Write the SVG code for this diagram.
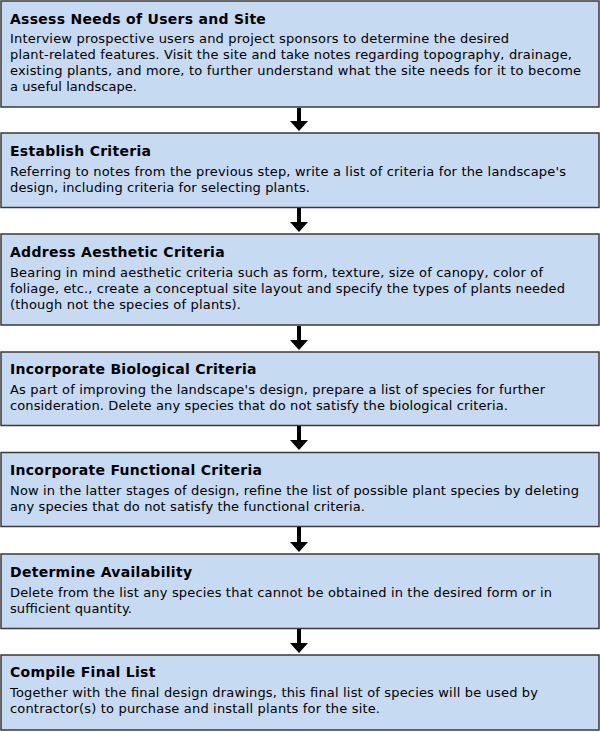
<svg xmlns="http://www.w3.org/2000/svg" width="600" height="732" viewBox="0 0 600 732">
<style>
.box{fill:#c6daf1;stroke:#3a3a3a;stroke-width:1.5}
.t{font-family:"DejaVu Sans",Verdana,sans-serif;font-weight:bold;font-size:14px;letter-spacing:0.28px;fill:#000}
.b{font-family:"DejaVu Sans",Verdana,sans-serif;font-size:13px;fill:#000}
.arr{fill:#000}
</style>
<rect width="600" height="732" fill="#fff"/>
<g id="n1">
<rect class="box" x="1" y="1" width="598" height="106"/>
<text class="t" x="10" y="24">Assess Needs of Users and Site</text>
<text class="b" x="10" y="43" textLength="499" lengthAdjust="spacing">Interview prospective users and project sponsors to determine the desired</text>
<text class="b" x="10" y="59" textLength="562" lengthAdjust="spacing">plant-related features. Visit the site and take notes regarding topography, drainage,</text>
<text class="b" x="10" y="75" textLength="571" lengthAdjust="spacing">existing plants, and more, to further understand what the site needs for it to become</text>
<text class="b" x="10" y="91" textLength="127" lengthAdjust="spacing">a useful landscape.</text>
</g>
<g id="n2">
<rect class="box" x="1" y="133" width="598" height="74.5"/>
<text class="t" x="10" y="156">Establish Criteria</text>
<text class="b" x="10" y="176" textLength="556" lengthAdjust="spacing">Referring to notes from the previous step, write a list of criteria for the landscape's</text>
<text class="b" x="10" y="192" textLength="300" lengthAdjust="spacing">design, including criteria for selecting plants.</text>
</g>
<g id="n3">
<rect class="box" x="1" y="234" width="598" height="91"/>
<text class="t" x="10" y="257">Address Aesthetic Criteria</text>
<text class="b" x="10" y="277" textLength="533" lengthAdjust="spacing">Bearing in mind aesthetic criteria such as form, texture, size of canopy, color of</text>
<text class="b" x="10" y="293" textLength="555" lengthAdjust="spacing">foliage, etc., create a conceptual site layout and specify the types of plants needed</text>
<text class="b" x="10" y="309" textLength="231" lengthAdjust="spacing">(though not the species of plants).</text>
</g>
<g id="n4">
<rect class="box" x="1" y="352" width="598" height="73.5"/>
<text class="t" x="10" y="374">Incorporate Biological Criteria</text>
<text class="b" x="10" y="394" textLength="535" lengthAdjust="spacing">As part of improving the landscape's design, prepare a list of species for further</text>
<text class="b" x="10" y="410" textLength="498" lengthAdjust="spacing">consideration. Delete any species that do not satisfy the biological criteria.</text>
</g>
<g id="n5">
<rect class="box" x="1" y="452.5" width="598" height="74"/>
<text class="t" x="10" y="475">Incorporate Functional Criteria</text>
<text class="b" x="10" y="495" textLength="569" lengthAdjust="spacing">Now in the latter stages of design, refine the list of possible plant species by deleting</text>
<text class="b" x="10" y="511" textLength="355" lengthAdjust="spacing">any species that do not satisfy the functional criteria.</text>
</g>
<g id="n6">
<rect class="box" x="1" y="554" width="598" height="74.5"/>
<text class="t" x="10" y="577">Determine Availability</text>
<text class="b" x="10" y="597" textLength="542" lengthAdjust="spacing">Delete from the list any species that cannot be obtained in the desired form or in</text>
<text class="b" x="10" y="613" textLength="122" lengthAdjust="spacing">sufficient quantity.</text>
</g>
<g id="n7">
<rect class="box" x="1" y="655" width="598" height="75"/>
<text class="t" x="10" y="677">Compile Final List</text>
<text class="b" x="10" y="697" textLength="528" lengthAdjust="spacing">Together with the final design drawings, this final list of species will be used by</text>
<text class="b" x="10" y="713" textLength="370" lengthAdjust="spacing">contractor(s) to purchase and install plants for the site.</text>
</g>
<g id="connectors" class="arr">
<path d="M297 108H301V121H308L299 131L290 121H297Z"/>
<path d="M297 208H301V222H308L299 232L290 222H297Z"/>
<path d="M297 326H301V340H308L299 350L290 340H297Z"/>
<path d="M297 426H301V440H308L299 450L290 440H297Z"/>
<path d="M297 527H301V542H308L299 552L290 542H297Z"/>
<path d="M297 629H301V643H308L299 653L290 643H297Z"/>
</g>
</svg>
